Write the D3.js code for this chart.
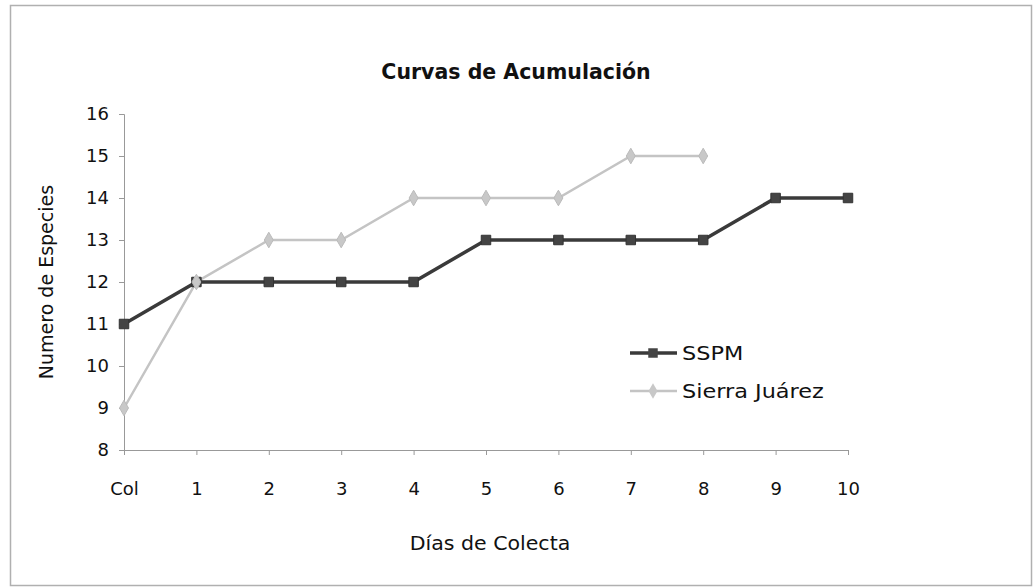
<!DOCTYPE html>
<html><head><meta charset="utf-8">
<script src="https://cdn.jsdelivr.net/npm/d3@7"></script>
<style>body{margin:0;background:#fff}svg{display:block}text{font-family:"DejaVu Sans",sans-serif;fill:#111}</style>
</head><body>
<script>
const categories = ["Col","1","2","3","4","5","6","7","8","9","10"];
const sspm = [11,12,12,12,12,13,13,13,13,14,14];
const sierra = [9,12,13,13,14,14,14,15,15,null,null];
const yTicks = [8,9,10,11,12,13,14,15,16];
const seriesNames = ["SSPM","Sierra Juárez"];

const W=1034,H=588;
const svg=d3.select("body").append("svg").attr("width",W).attr("height",H);
svg.append("rect").attr("x",10.5).attr("y",5.5).attr("width",1021).attr("height",580)
  .attr("fill","#fff").attr("stroke","#b0b0b0").attr("stroke-width",1.5);

const x=d3.scalePoint().domain(categories).range([124,848]);
const y=d3.scaleLinear().domain([8,16]).range([450,114]);

svg.append("text").attr("x",516).attr("y",79).attr("text-anchor","middle")
  .attr("font-size",20.5).attr("font-weight","bold").text("Curvas de Acumulación");

const gx=svg.append("g").attr("transform","translate(0,450)")
  .call(d3.axisBottom(x).tickSize(5).tickPadding(27));
gx.selectAll("text").attr("font-size",18);
const gy=svg.append("g").attr("transform","translate(124,0)")
  .call(d3.axisLeft(y).tickValues(yTicks).tickSize(5).tickPadding(10).tickFormat(d3.format("d")));
gy.selectAll("text").attr("font-size",18);
svg.selectAll(".domain,.tick line").attr("stroke","#999");

svg.append("text").attr("x",490).attr("y",550).attr("text-anchor","middle")
  .attr("transform","translate(490,0) scale(1.08,1) translate(-490,0)")
  .attr("font-size",19).text("Días de Colecta");
svg.append("text").attr("transform","translate(53,282) rotate(-90)").attr("text-anchor","middle").attr("font-size",19).text("Numero de Especies");

const line=d3.line().defined(d=>d!=null).x((d,i)=>x(categories[i])).y(d=>y(d));
svg.append("path").datum(sierra).attr("d",line).attr("fill","none").attr("stroke","#c4c4c4").attr("stroke-width",2.5);
svg.append("path").datum(sspm).attr("d",line).attr("fill","none").attr("stroke","#3a3a3a").attr("stroke-width",3.5);
const sq=d3.symbol().type(d3.symbolSquare).size(90);
const dm=d3.symbol().type(d3.symbolDiamond).size(70);
svg.selectAll(".m1").data(sspm.map((v,i)=>[v,i]).filter(d=>d[0]!=null)).join("path")
  .attr("d",sq).attr("transform",d=>`translate(${x(categories[d[1]])},${y(d[0])})`).attr("fill","#444").attr("stroke","#333");
svg.selectAll(".m2").data(sierra.map((v,i)=>[v,i]).filter(d=>d[0]!=null)).join("path")
  .attr("d",dm).attr("transform",d=>`translate(${x(categories[d[1]])},${y(d[0])})`).attr("fill","#c8c8c8").attr("stroke","#bbb");

// legend
const lg=svg.append("g");
const ly=[353,391];
lg.append("line").attr("x1",630).attr("x2",677).attr("y1",ly[0]).attr("y2",ly[0]).attr("stroke","#3a3a3a").attr("stroke-width",3.5);
lg.append("path").attr("d",sq).attr("transform",`translate(653,${ly[0]})`).attr("fill","#444");
lg.append("line").attr("x1",630).attr("x2",677).attr("y1",ly[1]).attr("y2",ly[1]).attr("stroke","#c4c4c4").attr("stroke-width",2.5);
lg.append("path").attr("d",dm).attr("transform",`translate(653,${ly[1]})`).attr("fill","#c8c8c8");
seriesNames.forEach((n,i)=>lg.append("text").attr("transform",`translate(682,${ly[i]+7}) scale(1.12,1)`).attr("font-size",20).text(n));
</script>
</body></html>
